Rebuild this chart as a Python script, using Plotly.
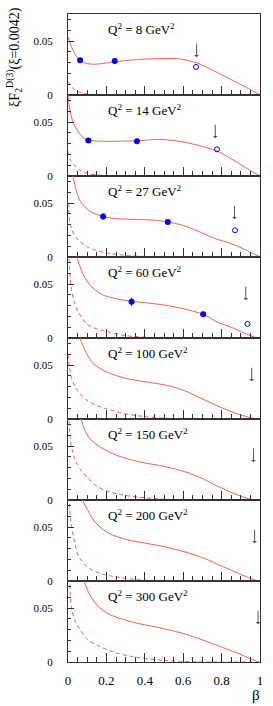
import plotly.graph_objects as go
from plotly.subplots import make_subplots

# ---------------- data ----------------
q2_values = [8, 14, 27, 60, 100, 150, 200, 300]
q2_labels = ["Q<sup>2</sup> = %d GeV<sup>2</sup>" % q for q in q2_values]

# full fit curves (solid) : beta, xi*F2
fit_beta = [
    [0.0, 0.02, 0.04, 0.063, 0.1, 0.14, 0.2, 0.243, 0.3, 0.38, 0.45, 0.5, 0.576, 0.67, 0.747, 0.832, 0.918, 0.96, 1.0],
    [0.0, 0.005, 0.02, 0.046, 0.08, 0.12, 0.2, 0.3, 0.36, 0.456, 0.5, 0.576, 0.678, 0.776, 0.884, 0.95, 1.0],
    [0.015, 0.026, 0.04, 0.063, 0.114, 0.183, 0.251, 0.371, 0.45, 0.52, 0.6, 0.678, 0.76, 0.85, 0.92, 0.96, 1.0],
    [0.035, 0.046, 0.08, 0.114, 0.15, 0.183, 0.268, 0.33, 0.4, 0.507, 0.6, 0.704, 0.78, 0.85, 0.9, 0.95, 0.985],
    [0.05, 0.063, 0.097, 0.131, 0.2, 0.303, 0.405, 0.508, 0.6, 0.713, 0.8, 0.85, 0.9, 0.95, 0.98],
    [0.058, 0.068, 0.09, 0.114, 0.166, 0.251, 0.371, 0.508, 0.61, 0.7, 0.747, 0.8, 0.884, 0.94, 0.98],
    [0.068, 0.077, 0.108, 0.142, 0.21, 0.31, 0.4, 0.508, 0.61, 0.713, 0.8, 0.85, 0.9, 0.95, 0.985],
    [0.075, 0.084, 0.114, 0.166, 0.234, 0.337, 0.473, 0.61, 0.747, 0.884, 0.95, 0.99],
]
fit_val = [
    [0.054, 0.044, 0.037, 0.032, 0.0292, 0.0286, 0.0298, 0.0308, 0.032, 0.0332, 0.0338, 0.034, 0.0336, 0.0299, 0.0236, 0.0159, 0.008, 0.004, 0.0],
    [0.08, 0.067, 0.0537, 0.043, 0.0353, 0.033, 0.0322, 0.0325, 0.0327, 0.034, 0.0338, 0.0324, 0.0285, 0.0232, 0.0123, 0.005, 0.0],
    [0.085, 0.0753, 0.064, 0.0519, 0.0425, 0.0376, 0.0357, 0.0348, 0.0342, 0.0326, 0.0293, 0.0239, 0.0175, 0.0124, 0.007, 0.0035, 0.0],
    [0.085, 0.0753, 0.0588, 0.0493, 0.0435, 0.0399, 0.0358, 0.0342, 0.0328, 0.0305, 0.0272, 0.022, 0.0145, 0.01, 0.006, 0.0022, 0.0],
    [0.085, 0.0753, 0.0608, 0.0516, 0.0438, 0.0377, 0.0345, 0.0315, 0.0268, 0.0176, 0.0105, 0.0068, 0.0038, 0.0012, 0.0],
    [0.085, 0.0753, 0.064, 0.057, 0.0494, 0.0417, 0.0355, 0.031, 0.0262, 0.02, 0.0155, 0.0112, 0.0046, 0.0012, 0.0],
    [0.085, 0.0753, 0.064, 0.0545, 0.0445, 0.0383, 0.0353, 0.0316, 0.027, 0.0209, 0.0138, 0.0101, 0.006, 0.0025, 0.0],
    [0.085, 0.0753, 0.0624, 0.05, 0.0428, 0.037, 0.0319, 0.026, 0.0174, 0.0081, 0.003, 0.0],
]

# second component (dashed)
dash_beta = [
    [0.0, 0.02, 0.04, 0.07, 0.1, 0.15, 0.2, 1.0],
    [0.0, 0.01, 0.03, 0.06, 0.1, 0.15, 0.2, 0.3, 1.0],
    [0.0, 0.01, 0.03, 0.06, 0.1, 0.15, 0.2, 0.3, 0.4, 0.5, 1.0],
    [0.003, 0.012, 0.02, 0.03, 0.05, 0.1, 0.15, 0.22, 0.3, 0.4, 0.5, 1.0],
    [0.0, 0.008, 0.02, 0.04, 0.07, 0.1, 0.15, 0.2, 0.3, 0.4, 0.5, 0.6, 1.0],
    [0.004, 0.012, 0.025, 0.04, 0.07, 0.1, 0.15, 0.2, 0.3, 0.4, 0.5, 0.6, 1.0],
    [0.005, 0.0125, 0.03, 0.055, 0.108, 0.177, 0.28, 0.38, 0.5, 0.6, 1.0],
    [0.006, 0.02, 0.04, 0.063, 0.1, 0.166, 0.25, 0.337, 0.5, 0.6, 0.7, 1.0],
]
dash_val = [
    [0.0125, 0.0072, 0.0042, 0.002, 0.001, 0.0003, 0.0, 0.0],
    [0.023, 0.016, 0.0105, 0.0055, 0.0025, 0.001, 0.0003, 0.0, 0.0],
    [0.05, 0.033, 0.021, 0.0148, 0.0095, 0.006, 0.0038, 0.0015, 0.0005, 0.0, 0.0],
    [0.08, 0.055, 0.043, 0.035, 0.025, 0.0128, 0.0085, 0.0052, 0.0022, 0.0008, 0.0, 0.0],
    [0.06, 0.048, 0.037, 0.029, 0.022, 0.0172, 0.0125, 0.0095, 0.0048, 0.0022, 0.0008, 0.0, 0.0],
    [0.08, 0.056, 0.044, 0.036, 0.027, 0.021, 0.0128, 0.0085, 0.0042, 0.002, 0.0008, 0.0, 0.0],
    [0.085, 0.058, 0.04, 0.023, 0.012, 0.0065, 0.003, 0.001, 0.0003, 0.0, 0.0],
    [0.085, 0.048, 0.037, 0.03, 0.021, 0.0143, 0.0085, 0.005, 0.0015, 0.0005, 0.0, 0.0],
]

# measured points (filled)
pt_beta = [[0.063, 0.243], [0.106, 0.359], [0.183, 0.52], [0.331, 0.704], [], [], [], []]
pt_val = [[0.0323, 0.0317], [0.0331, 0.0322], [0.0376, 0.0326], [0.0336, 0.022], [], [], [], []]
pt_err = [[0.0008, 0.0008], [0.001, 0.0008], [0.0028, 0.001], [0.0037, 0.0012], [], [], [], []]

# open points
open_beta = [[0.667], [0.776], [0.87], [0.935], [], [], [], []]
open_val = [[0.0261], [0.0248], [0.0248], [0.0132], [], [], [], []]

# kinematic limit arrows (beta)
arrow_beta = [0.67, 0.767, 0.867, 0.926, 0.957, 0.966, 0.972, 0.99]

x_tick_vals = [0, 0.2, 0.4, 0.6, 0.8, 1]
x_tick_text = ["0", "0.2", "0.4", "0.6", "0.8", "1"]
y_tick_vals = [0, 0.05]
y_tick_text = ["0", "0.05"]

# ---------------- figure ----------------
N = len(q2_values)
fig = make_subplots(rows=N, cols=1, shared_xaxes=True, vertical_spacing=0)

CURVE = "#ff5a5a"
BLUE = "#0000ff"
FONT = "Liberation Serif"
AX = "#333333"

for i in range(N):
    r = i + 1
    fig.add_trace(go.Scatter(x=fit_beta[i], y=fit_val[i], mode="lines",
                             line=dict(color=CURVE, width=1, shape="spline", smoothing=0.8),
                             showlegend=False, hoverinfo="skip"), row=r, col=1)
    fig.add_trace(go.Scatter(x=dash_beta[i], y=dash_val[i], mode="lines",
                             line=dict(color=CURVE, width=1, dash="4px,3px", shape="spline", smoothing=0.8),
                             showlegend=False, hoverinfo="skip"), row=r, col=1)
    if pt_beta[i]:
        fig.add_trace(go.Scatter(x=pt_beta[i], y=pt_val[i], mode="markers",
                                 marker=dict(color=BLUE, size=6),
                                 error_y=dict(type="data", array=pt_err[i], color=BLUE, thickness=1, width=0),
                                 showlegend=False), row=r, col=1)
    if open_beta[i]:
        fig.add_trace(go.Scatter(x=open_beta[i], y=open_val[i], mode="markers",
                                 marker=dict(color="rgba(0,0,0,0)", size=5, line=dict(color=BLUE, width=1)),
                                 showlegend=False), row=r, col=1)

    xa = "x" if i == 0 else "x%d" % r
    ya = "y" if i == 0 else "y%d" % r
    fig.add_annotation(x=0.2, y=0.0612, xref=xa, yref=ya, text=q2_labels[i],
                       showarrow=False, xanchor="left", yanchor="middle",
                       font=dict(family=FONT, size=13, color="black"))
    fig.add_annotation(x=arrow_beta[i], y=0.035, ax=arrow_beta[i], ay=0.049,
                       xref=xa, yref=ya, axref=xa, ayref=ya, text="",
                       showarrow=True, arrowhead=1, arrowsize=0.8, arrowwidth=1,
                       arrowcolor="#555555")

    fig.update_yaxes(row=r, col=1, range=[0, 0.0753], tickvals=y_tick_vals, ticktext=y_tick_text,
                     ticks="inside", ticklen=6, tickcolor=AX, showline=True, linecolor=AX,
                     mirror=True, showgrid=False, zeroline=False, ticklabelstandoff=12,
                     tickfont=dict(family=FONT, size=11, color="black"),
                     minor=dict(dtick=0.01, tick0=0, ticks="inside", ticklen=3, tickcolor=AX))
    fig.update_xaxes(row=r, col=1, range=[0, 1], tickvals=x_tick_vals, ticktext=x_tick_text,
                     ticks="inside", ticklen=9, tickcolor=AX, showline=True, linecolor=AX,
                     mirror=True, showgrid=False, zeroline=False, ticklabelstandoff=6,
                     showticklabels=(r == N),
                     tickfont=dict(family=FONT, size=13, color="black"),
                     minor=dict(dtick=0.05, tick0=0, ticks="inside", ticklen=5, tickcolor=AX))

# axis titles as annotations
fig.add_annotation(xref="paper", yref="paper", x=-0.282, y=0.9336,
                   text="ξF<sub>2</sub><sup>D(3)</sup>(ξ=0.0042)", textangle=-90,
                   showarrow=False, xanchor="center", yanchor="middle",
                   font=dict(family=FONT, size=14, color="black"))
fig.add_annotation(xref="paper", yref="paper", x=0.979, y=-0.051, text="β",
                   showarrow=False, xanchor="center", yanchor="middle",
                   font=dict(family=FONT, size=15, color="black"))

fig.update_layout(width=273, height=706, margin=dict(l=68, r=10, t=14, b=44),
                  paper_bgcolor="white", plot_bgcolor="white", showlegend=False)

fig.write_html("out.html", config={"displayModeBar": False, "staticPlot": True},
               post_script="document.body.style.margin='0';document.body.style.overflow='hidden';")
